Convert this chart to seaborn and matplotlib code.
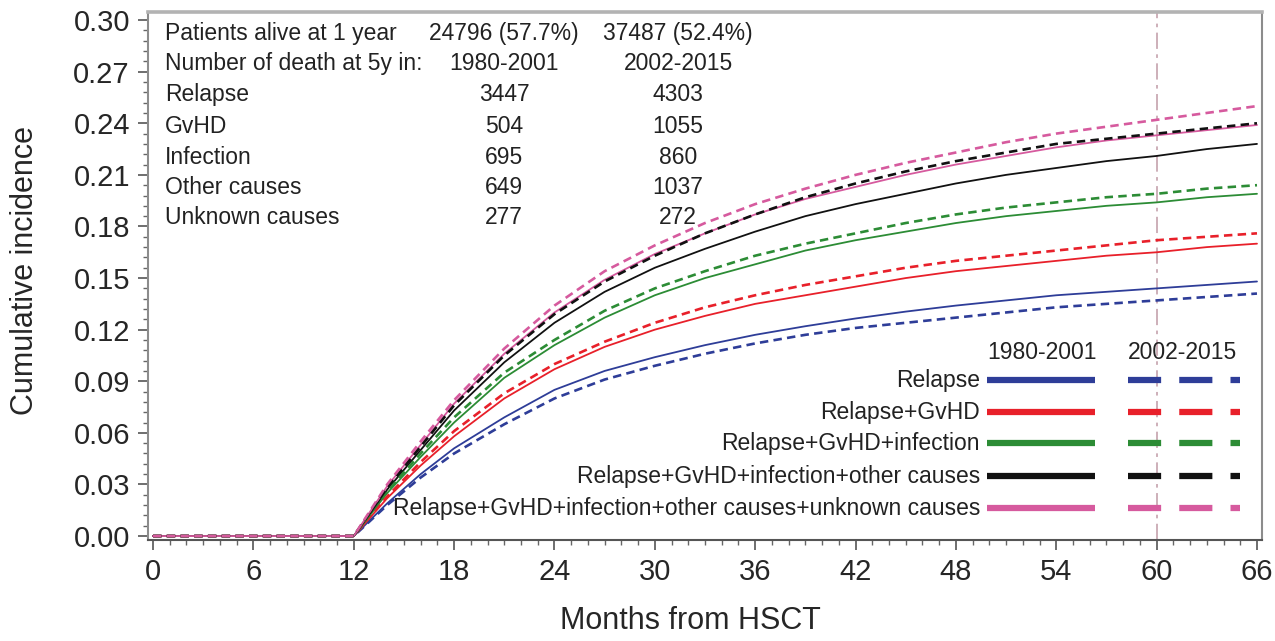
import numpy as np
import pandas as pd
import matplotlib
matplotlib.use("Agg")
import matplotlib.pyplot as plt
from matplotlib import font_manager
import seaborn as sns

months = [0, 12, 14, 16, 18, 21, 24, 27, 30, 33, 36, 39, 42, 45, 48, 51, 54, 57, 60, 63, 66]

causes = ["Relapse", "Relapse+GvHD", "Relapse+GvHD+infection",
          "Relapse+GvHD+infection+other causes",
          "Relapse+GvHD+infection+other causes+unknown causes"]
periods = ["1980-2001", "2002-2015"]

relapse_old = [0, 0, 0.019, 0.036, 0.051, 0.069, 0.085, 0.096, 0.104, 0.111, 0.117, 0.122, 0.1265, 0.1305, 0.134, 0.137, 0.140, 0.142, 0.144, 0.146, 0.148]
relapse_new = [0, 0, 0.018, 0.034, 0.048, 0.065, 0.080, 0.091, 0.099, 0.106, 0.112, 0.117, 0.121, 0.124, 0.127, 0.130, 0.133, 0.135, 0.137, 0.139, 0.141]
gvhd_old = [0, 0, 0.022, 0.041, 0.058, 0.080, 0.097, 0.110, 0.120, 0.128, 0.135, 0.140, 0.145, 0.150, 0.154, 0.157, 0.160, 0.163, 0.165, 0.168, 0.170]
gvhd_new = [0, 0, 0.023, 0.043, 0.061, 0.083, 0.100, 0.113, 0.124, 0.133, 0.140, 0.146, 0.151, 0.156, 0.160, 0.163, 0.166, 0.169, 0.172, 0.174, 0.176]
infect_old = [0, 0, 0.025, 0.046, 0.066, 0.092, 0.111, 0.127, 0.140, 0.150, 0.158, 0.166, 0.172, 0.177, 0.182, 0.186, 0.189, 0.192, 0.194, 0.197, 0.199]
infect_new = [0, 0, 0.026, 0.048, 0.069, 0.095, 0.114, 0.131, 0.144, 0.154, 0.163, 0.170, 0.176, 0.182, 0.187, 0.191, 0.194, 0.197, 0.199, 0.202, 0.204]
other_old = [0, 0, 0.027, 0.050, 0.073, 0.101, 0.124, 0.142, 0.156, 0.167, 0.177, 0.186, 0.193, 0.199, 0.205, 0.210, 0.214, 0.218, 0.221, 0.225, 0.228]
other_new = [0, 0, 0.028, 0.052, 0.076, 0.105, 0.129, 0.148, 0.163, 0.176, 0.187, 0.197, 0.205, 0.212, 0.218, 0.223, 0.228, 0.231, 0.234, 0.237, 0.240]
unknown_old = [0, 0, 0.029, 0.053, 0.077, 0.106, 0.130, 0.149, 0.164, 0.176, 0.187, 0.196, 0.203, 0.210, 0.216, 0.221, 0.226, 0.230, 0.233, 0.236, 0.239]
unknown_new = [0, 0, 0.030, 0.055, 0.079, 0.109, 0.134, 0.154, 0.169, 0.182, 0.193, 0.202, 0.210, 0.217, 0.223, 0.229, 0.234, 0.238, 0.242, 0.246, 0.250]

table_rows = ["Patients alive at 1 year", "Number of death at 5y in:", "Relapse", "GvHD",
              "Infection", "Other causes", "Unknown causes"]
table_col1 = ["24796 (57.7%)", "1980-2001", "3447", "504", "695", "649", "277"]
table_col2 = ["37487 (52.4%)", "2002-2015", "4303", "1055", "860", "1037", "272"]

colors = ["#2e3d98", "#e8202a", "#2c8c35", "#111111", "#d65a9e"]

series = [(relapse_old, relapse_new), (gvhd_old, gvhd_new), (infect_old, infect_new),
          (other_old, other_new), (unknown_old, unknown_new)]
rows = []
for cause, (old, new) in zip(causes, series):
    for per, vals in zip(periods, (old, new)):
        for m, v in zip(months, vals):
            rows.append({"month": m, "cif": v, "cause": cause, "period": per})
df = pd.DataFrame(rows)

sns.set_style("ticks")
names = {f.name for f in font_manager.fontManager.ttflist}
if "Liberation Sans Narrow" in names:
    plt.rcParams["font.family"] = ["Liberation Sans Narrow", "DejaVu Sans"]
    fs_tick, fs_lab, fs_txt = 24, 25, 19.5
else:
    plt.rcParams["font.family"] = ["Liberation Sans", "DejaVu Sans"]
    fs_tick, fs_lab, fs_txt = 21, 22, 16.5

fig = plt.figure(figsize=(12.75, 6.41), dpi=100)
ax = fig.add_axes([148 / 1275, 1 - 540 / 641, 1114 / 1275, 528 / 641])

# solid = 1980-2001, dashed = 2002-2015
sns.lineplot(data=df[df.period == periods[0]], x="month", y="cif", hue="cause",
             hue_order=causes, palette=colors, estimator=None, linewidth=1.3,
             legend=False, ax=ax)
sns.lineplot(data=df[df.period == periods[1]], x="month", y="cif", hue="cause",
             hue_order=causes, palette=colors, estimator=None, linewidth=1.9,
             dashes=False, legend=False, ax=ax, ls=(0, (3.2, 2.0)))

ax.axvline(60, color="#c9a9b3", lw=1.3, ls=(0, (9, 3, 2, 3)), zorder=0)

ax.set_xlim(-0.3, 66.3)
ax.set_ylim(-0.0023, 0.3047)
ax.set_xticks(range(0, 67, 6))
ax.set_xticks(range(0, 67), minor=True)
ax.set_yticks(np.arange(0, 0.301, 0.03))
ax.set_yticks(np.arange(0, 0.301, 0.006), minor=True)
ax.yaxis.set_major_formatter(matplotlib.ticker.FormatStrFormatter("%.2f"))
ax.tick_params(axis="both", which="major", length=7, width=1.2, color="#555555",
               labelsize=fs_tick, pad=6)
ax.tick_params(axis="both", which="minor", length=3.5, width=1, color="#666666")

ax.set_xlabel("Months from HSCT", fontsize=fs_lab)
ax.set_ylabel("Cumulative incidence", fontsize=fs_lab)
ax.xaxis.set_label_coords(0.4865, -0.125)
ax.yaxis.set_label_coords(-0.097, 0.511)

ax.spines["top"].set_color("#b3b3b3")
ax.spines["top"].set_linewidth(2.6)
ax.spines["right"].set_color("#8c8c8c")
ax.spines["right"].set_linewidth(1.5)
ax.spines["left"].set_color("#8c8c8c")
ax.spines["left"].set_linewidth(1.5)
ax.spines["bottom"].set_color("#555555")
ax.spines["bottom"].set_linewidth(1.5)

# table of deaths in the upper left corner
row_y = [0.960, 0.903, 0.843, 0.784, 0.725, 0.667, 0.610]
for y, a, b, c in zip(row_y, table_rows, table_col1, table_col2):
    ax.text(0.0153, y, a, transform=ax.transAxes, fontsize=fs_txt, va="center", ha="left", color="#222222")
    ax.text(0.3195, y, b, transform=ax.transAxes, fontsize=fs_txt, va="center", ha="center", color="#222222")
    ax.text(0.4758, y, c, transform=ax.transAxes, fontsize=fs_txt, va="center", ha="center", color="#222222")

# hand made legend in the lower right corner
ax.text(0.8025, 0.356, periods[0], transform=ax.transAxes, fontsize=fs_txt, ha="center", va="center", color="#222222")
ax.text(0.929, 0.356, periods[1], transform=ax.transAxes, fontsize=fs_txt, ha="center", va="center", color="#222222")
leg_y = [0.303, 0.2424, 0.1837, 0.1212, 0.0606]
for y, cause, col in zip(leg_y, causes, colors):
    ax.text(0.7469, y, cause, transform=ax.transAxes, fontsize=fs_txt, ha="right", va="center", color="#222222")
    ax.plot([0.7531, 0.8501], [y, y], transform=ax.transAxes, color=col, lw=4.5, solid_capstyle="butt")
    ax.plot([0.8797, 0.9803], [y, y], transform=ax.transAxes, color=col, lw=4.5,
            ls=(0, (5.3, 2.9)), dash_capstyle="butt")

fig.savefig("out.png", dpi=100)
